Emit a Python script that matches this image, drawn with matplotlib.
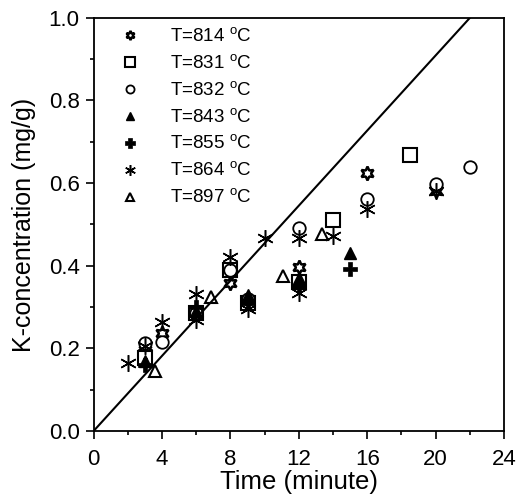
import matplotlib
matplotlib.use("Agg")
import matplotlib.pyplot as plt
import numpy as np
from matplotlib.ticker import MultipleLocator, FormatStrFormatter

plt.rcParams['font.family'] = ['Liberation Sans', 'DejaVu Sans']
plt.rcParams['mathtext.fontset'] = 'custom'
plt.rcParams['mathtext.rm'] = 'Liberation Sans'

labels = ['T=814 $^\\mathrm{o}$C', 'T=831 $^\\mathrm{o}$C', 'T=832 $^\\mathrm{o}$C',
          'T=843 $^\\mathrm{o}$C', 'T=855 $^\\mathrm{o}$C', 'T=864 $^\\mathrm{o}$C',
          'T=897 $^\\mathrm{o}$C']

t814 = [3, 4, 6, 8, 9, 12, 16, 20]
k814 = [0.21, 0.238, 0.29, 0.359, 0.32, 0.398, 0.624, 0.582]
t831 = [3, 6, 8, 9, 12, 14, 18.5]
k831 = [0.177, 0.285, 0.39, 0.31, 0.36, 0.511, 0.667]
t832 = [3, 4, 6, 8, 9, 12, 16, 20, 22]
k832 = [0.213, 0.215, 0.285, 0.39, 0.32, 0.492, 0.562, 0.598, 0.638]
t843 = [3, 6, 9, 12, 15]
k843 = [0.17, 0.29, 0.33, 0.37, 0.43]
t855 = [3, 6, 9, 12, 15]
k855 = [0.16, 0.30, 0.31, 0.35, 0.392]
t864 = [2, 3, 4, 6, 6, 8, 9, 10, 12, 12, 14, 16, 20]
k864 = [0.165, 0.205, 0.265, 0.332, 0.269, 0.42, 0.295, 0.468, 0.468, 0.335, 0.473, 0.537, 0.58]
t897 = [3.6, 6.85, 11.1, 13.35]
k897 = [0.145, 0.324, 0.375, 0.476]

line_t = [0, 22]
line_k = [0, 1.0]

fig = plt.figure(figsize=(5.17, 4.96), dpi=100)
ax = fig.add_axes([0.181, 0.131, 0.794, 0.833])

series = [
    (t814, k814, dict(marker=(6, 1, 0), ms=10, mfc='white', mec='black', mew=1.8)),
    (t831, k831, dict(marker='s', ms=10, mfc='white', mec='black', mew=1.5)),
    (t832, k832, dict(marker='o', ms=9, mfc='white', mec='black', mew=1.3)),
    (t843, k843, dict(marker='^', ms=9, mfc='black', mec='black', mew=1.0)),
    (t855, k855, dict(marker='P', ms=10, mfc='black', mec='black', mew=0.5)),
    (t864, k864, dict(marker=(6, 2, 0), ms=12, mfc='black', mec='black', mew=1.1)),
    (t897, k897, dict(marker='^', ms=9, mfc='white', mec='black', mew=1.5)),
]
for (t, k, st), lab in zip(series, labels):
    ax.plot(t, k, ls='none', label=lab, **st)

ax.plot(line_t, line_k, color='black', lw=1.5)

ax.set_xlim(0, 24)
ax.set_ylim(0, 1.0)
ax.xaxis.set_major_locator(MultipleLocator(4))
ax.xaxis.set_minor_locator(MultipleLocator(2))
ax.yaxis.set_major_locator(MultipleLocator(0.2))
ax.yaxis.set_minor_locator(MultipleLocator(0.1))
ax.yaxis.set_major_formatter(FormatStrFormatter('%.1f'))
ax.tick_params(which='major', direction='out', length=6, width=1.2, labelsize=16, pad=4)
ax.tick_params(axis='x', which='major', pad=7)
ax.tick_params(which='minor', direction='out', length=3, width=1.2)
for s in ax.spines.values():
    s.set_linewidth(1.3)

ax.set_xlabel('Time (minute)', fontsize=18.5, labelpad=0)
ax.set_ylabel('K-concentration (mg/g)', fontsize=18, labelpad=9)

ax.legend(loc='upper left', bbox_to_anchor=(0.02, 1.012), frameon=False, fontsize=13.5,
          markerscale=0.65, labelspacing=0.44, handletextpad=1.4, borderpad=0.25,
          handlelength=1.5)

fig.savefig('out.png', dpi=100)
